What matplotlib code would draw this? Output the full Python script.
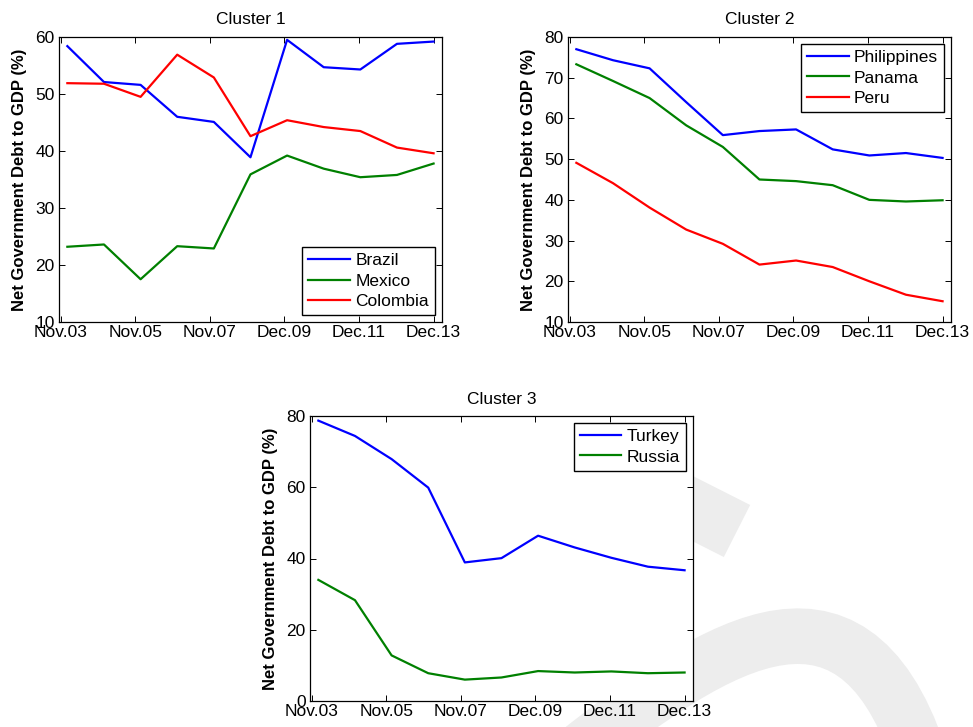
import numpy as np
import matplotlib
matplotlib.use("Agg")
import matplotlib.pyplot as plt
from matplotlib.path import Path
from matplotlib.patches import PathPatch

plt.rcParams['font.family'] = ['Liberation Sans', 'DejaVu Sans']

# yearly observations, Nov.03 .. Dec.13
tick_labels = ['Nov.03', 'Nov.05', 'Nov.07', 'Dec.09', 'Dec.11', 'Dec.13']
ylabel = 'Net Government Debt to GDP (%)'

brazil = [58.4, 52.1, 51.6, 46.0, 45.1, 38.9, 59.5, 54.7, 54.3, 58.8, 59.2]
mexico = [23.2, 23.6, 17.5, 23.3, 22.9, 35.9, 39.2, 36.9, 35.4, 35.8, 37.8]
colombia = [51.9, 51.8, 49.5, 56.9, 52.9, 42.6, 45.4, 44.2, 43.5, 40.6, 39.6]

philippines = [77.0, 74.3, 72.3, 64.0, 55.9, 56.9, 57.3, 52.4, 50.9, 51.5, 50.3]
panama = [73.3, 69.2, 65.0, 58.3, 53.0, 45.0, 44.6, 43.6, 40.0, 39.6, 39.9]
peru = [49.1, 44.1, 38.1, 32.7, 29.2, 24.1, 25.1, 23.5, 20.0, 16.7, 15.1]

turkey = [78.7, 74.4, 67.9, 59.9, 38.9, 40.1, 46.4, 43.1, 40.2, 37.7, 36.7]
russia = [34.0, 28.3, 12.8, 7.8, 6.0, 6.6, 8.4, 8.0, 8.3, 7.8, 8.0]

clusters = [
    ('Cluster 1', [('Brazil', brazil), ('Mexico', mexico), ('Colombia', colombia)],
     (10, 60), np.arange(10, 61, 10), 'lower right'),
    ('Cluster 2', [('Philippines', philippines), ('Panama', panama), ('Peru', peru)],
     (10, 80), np.arange(10, 81, 10), 'upper right'),
    ('Cluster 3', [('Turkey', turkey), ('Russia', russia)],
     (0, 80), np.arange(0, 81, 20), 'upper right'),
]
colors = ['#0000ff', '#008000', '#ff0000']

W, H = 973, 727
fig = plt.figure(figsize=(W / 100, H / 100), dpi=100)

# axes boxes in pixels: left, top, width, height
boxes = [(59, 37, 383, 285), (568, 37, 383, 285), (310, 416, 383, 285)]

def px(x, y):
    return (x / W, 1 - y / H)

# light grey logo band behind the plots
lower = Path([px(575, 755), px(720, 640), px(860, 550), px(925, 775)],
             [Path.MOVETO, Path.CURVE4, Path.CURVE4, Path.CURVE4])
upper = Path([px(650, 487), px(737, 531)], [Path.MOVETO, Path.LINETO])
for p, lw in [(lower, 40), (upper, 42)]:
    fig.add_artist(PathPatch(p, fill=False, edgecolor='#ededed', lw=lw,
                             capstyle='butt', transform=fig.transFigure, zorder=-1))

x = np.arange(len(brazil))
tick_pos = np.linspace(-0.18, 10.0, len(tick_labels))

for (title, series, ylim, yticks, loc), (l, t, w, h) in zip(clusters, boxes):
    ax = fig.add_axes([l / W, 1 - (t + h) / H, w / W, h / H])
    ax.set_facecolor('white')
    for (name, vals), c in zip(series, colors):
        ax.plot(x, vals, color=c, lw=1.6, label=name)
    ax.set_xlim(-0.228, 10.23)
    ax.set_ylim(*ylim)
    ax.set_xticks(tick_pos)
    ax.set_xticklabels(tick_labels)
    ax.set_yticks(yticks)
    ax.tick_params(direction='in', length=4, width=0.7, top=True, right=True,
                   labelsize=12.5, pad=3)
    ax.tick_params(axis='x', pad=2)
    for s in ax.spines.values():
        s.set_linewidth(0.9)
    ax.set_title(title, fontsize=12.5, pad=9)
    ax.set_ylabel(ylabel, fontsize=12, fontweight='bold', labelpad=6)
    leg = ax.legend(loc=loc, fontsize=12.5, fancybox=False, framealpha=1,
                    edgecolor='black', borderpad=0.35, labelspacing=0.3,
                    handlelength=2.4, handletextpad=0.3, borderaxespad=0.4)
    leg.get_frame().set_linewidth(1.0)

fig.savefig('out.png', dpi=100)
